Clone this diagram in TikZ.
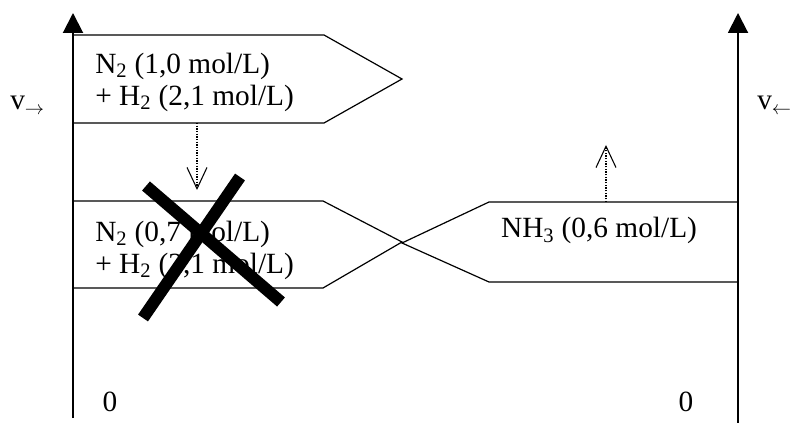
\documentclass[tikz,border=0pt]{standalone}
\usepackage{fontspec}
\setmainfont{Liberation Serif}
\usetikzlibrary{arrows.meta}

\begin{document}
\begin{tikzpicture}[
    x=0.75pt, y=-0.75pt,
    vaxis/.style={line width=1.5pt, -{Triangle[length=15pt, width=15pt]}},
    flowbox/.style={line width=0.9pt, line join=miter},
    conc/.style={font=\fontsize{22}{24}\selectfont, inner sep=0pt, align=left},
    shiftarr/.style={dash pattern=on 1pt off 1pt, line width=0.8pt, -{Straight Barb[length=16pt, width=15pt, line width=0.8pt]}},
    strike/.style={line width=9pt}
]
\useasboundingbox (0,0) rectangle (791,423);

% axes
\coordinate (lbot) at (73,418);
\coordinate (ltop) at (73,13);
\coordinate (rbot) at (738,423);
\coordinate (rtop) at (738,13);
\draw[vaxis] (lbot) -- (ltop);
\draw[vaxis] (rbot) -- (rtop);

% concentration boxes
\draw[flowbox] (73,35) -- (324,35) -- (402,79) -- (324,123) -- (73,123);
\draw[flowbox] (73,201) -- (323,201) -- (402,242) -- (323,288) -- (73,288);
\draw[flowbox] (738,202) -- (489,202) -- (402,243) -- (489,282) -- (738,282);

\node[conc, anchor=west] (reac1) at (95,82) {N\textsubscript{2} (1,0 mol/L)\\+ H\textsubscript{2} (2,1 mol/L)};
\node[conc, anchor=west] (reac2) at (95,250) {N\textsubscript{2} (0,7 mol/L)\\+ H\textsubscript{2} (2,1 mol/L)};
\node[conc, anchor=base] (prod) at (599,238) {NH\textsubscript{3} (0,6 mol/L)};

\node[conc, anchor=base west] (vfwd) at (10,110) {v\textsubscript{$\rightarrow$}};
\node[conc, anchor=base west] (vbwd) at (757,110) {v\textsubscript{$\leftarrow$}};
\node[conc, anchor=base] (zl) at (110,411) {0};
\node[conc, anchor=base] (zr) at (686,411) {0};

% crossed out
\draw[strike] (146,186) -- (281,302);
\draw[strike] (240,177) -- (143,318);

% shifts
\coordinate (s1a) at (197,123);
\coordinate (s1b) at (197,190);
\coordinate (s2a) at (606,202);
\coordinate (s2b) at (606,145);
\draw[shiftarr] (s1a) -- (s1b);
\draw[shiftarr] (s2a) -- (s2b);
\end{tikzpicture}
\end{document}
